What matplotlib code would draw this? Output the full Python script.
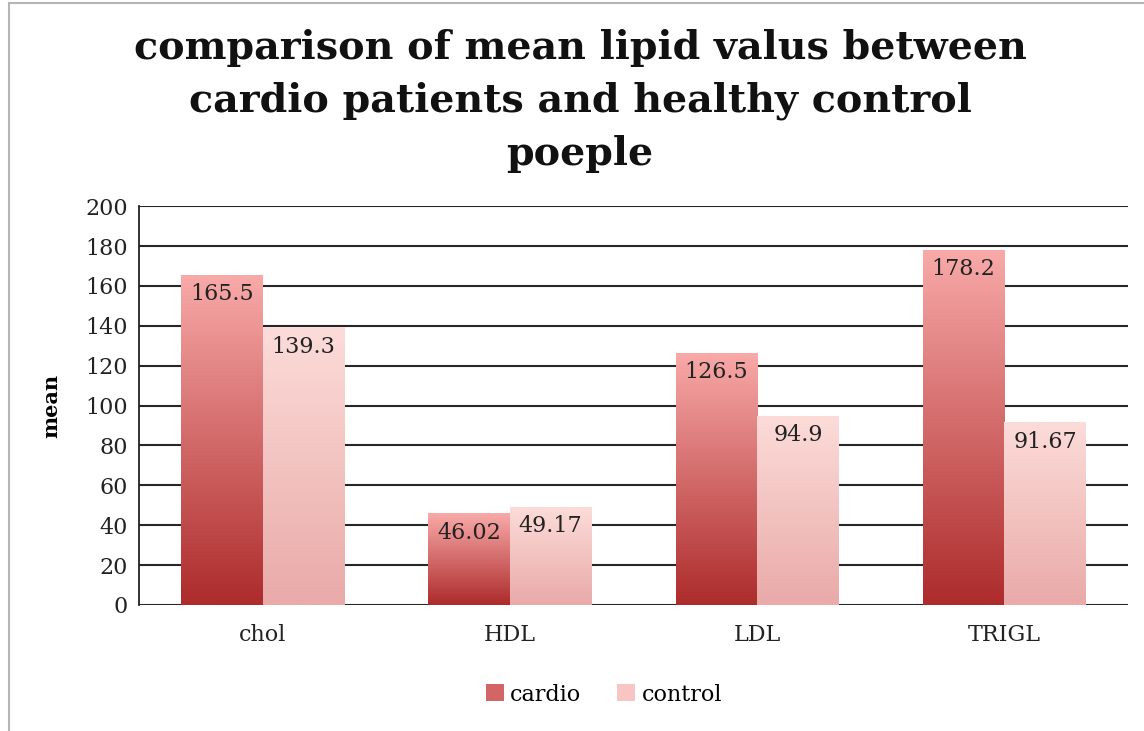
import numpy as np
import matplotlib
matplotlib.use("Agg")
import matplotlib.pyplot as plt
from matplotlib.colors import LinearSegmentedColormap
from matplotlib.patches import Rectangle, Patch

# ---- data ----
categories = ["chol", "HDL", "LDL", "TRIGL"]
series_names = ["cardio", "control"]
cardio = [165.5, 46.02, 126.5, 178.2]
control = [139.3, 49.17, 94.9, 91.67]
value_labels = [["165.5", "46.02", "126.5", "178.2"],
                ["139.3", "49.17", "94.9", "91.67"]]
yticks = [0, 20, 40, 60, 80, 100, 120, 140, 160, 180, 200]

# bottom -> top gradient colours for each series
grad_cols = [("#ad2b2b", "#f8aaa9"), ("#e9aaa8", "#fcdcd9")]

plt.rcParams["font.family"] = ["DejaVu Serif"]

fig = plt.figure(figsize=(11.44, 7.31), dpi=100)
ax = fig.add_axes([0.1215, 0.1724, 0.8645, 0.5456])

x = np.arange(len(categories))
bw = 0.33
for si, vals in enumerate([cardio, control]):
    cmap = LinearSegmentedColormap.from_list(series_names[si], list(grad_cols[si]))
    grad = np.linspace(0, 1, 256).reshape(-1, 1)
    for xi, v in zip(x, vals):
        x0 = xi - bw + si * bw
        rect = Rectangle((x0, 0), bw, v, fc="none", ec="none", zorder=3)
        ax.add_patch(rect)
        im = ax.imshow(grad, extent=[x0, x0 + bw, 0, v], origin="lower",
                       aspect="auto", cmap=cmap, zorder=3, interpolation="bilinear")
        im.set_clip_path(rect)
        ax.annotate(value_labels[si][xi], (x0 + bw / 2, v), xytext=(0, -14),
                    textcoords="offset points", ha="center", va="center",
                    fontsize=16, color="#222222", zorder=4)

ax.set_xlim(-0.5, len(categories) - 0.5)
ax.set_ylim(0, 200)
ax.set_yticks(yticks)
ax.set_xticks(x)
ax.set_xticklabels(categories)
ax.yaxis.grid(True, color="#262626", lw=1.5, zorder=1)
ax.set_axisbelow(True)
for s in ["top", "right", "bottom"]:
    ax.spines[s].set_visible(False)
ax.spines["left"].set_color("#222222")
ax.spines["left"].set_linewidth(1.3)
ax.tick_params(axis="both", length=0, labelsize=16, colors="#222222", pad=8)
ax.tick_params(axis="x", pad=14)
ax.set_ylabel("mean", fontsize=15, fontweight="bold", labelpad=17)

handles = [Patch(fc="#d46565", ec="none"), Patch(fc="#f7c6c3", ec="none")]
ax.legend(handles, series_names, loc="center", bbox_to_anchor=(0.47, -0.225),
          ncol=2, frameon=False, fontsize=16, handlelength=0.8, handleheight=0.8,
          handletextpad=0.3, columnspacing=1.6)

fig.text(0.507, 0.862,
         "comparison of mean lipid valus between\ncardio patients and healthy control\npoeple",
         ha="center", va="center", fontsize=28.5, fontweight="bold",
         linespacing=1.5, color="#111111")

# outer chart frame
fig.add_artist(Rectangle((9 / 1144, -0.1), 1.2, 1.1 - 3 / 731,
                         transform=fig.transFigure, fill=False,
                         ec="#b5b5b5", lw=1.5))

fig.savefig("out.png", dpi=100)
